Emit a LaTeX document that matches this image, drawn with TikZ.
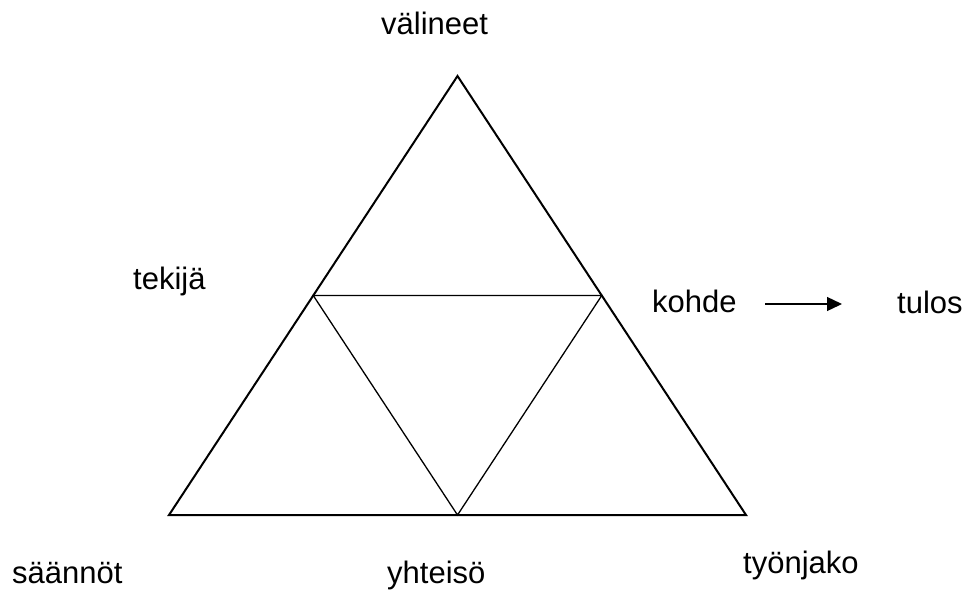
\documentclass[tikz,border=0pt]{standalone}
\usepackage{fontspec}
\setmainfont{Liberation Sans}
\usetikzlibrary{arrows.meta,calc}
\begin{document}
\begin{tikzpicture}[x=1pt,y=-1pt,
  lbl/.style={anchor=base west,inner sep=0pt,font=\fontsize{31}{37}\selectfont},
  outer/.style={line width=2pt,line join=miter},
  inner/.style={line width=1.3pt},
  arr/.style={line width=1.3pt,-{Triangle[length=15pt,width=14pt]}}]
\useasboundingbox (0,0) rectangle (968,590);
\coordinate (A) at (457.5,76);
\coordinate (B) at (169,515);
\coordinate (C) at (746,515);
\coordinate (AB) at ($(A)!0.5!(B)$);
\coordinate (AC) at ($(A)!0.5!(C)$);
\coordinate (BC) at ($(B)!0.5!(C)$);
\draw[outer] (A) -- (B) -- (C) -- cycle;
\draw[inner] (AB) -- (AC) -- (BC) -- cycle;
\node[lbl] (valineet) at (381,34) {välineet};
\node[lbl] (tekija) at (133,289) {tekijä};
\node[lbl] (kohde) at (652,312) {kohde};
\node[lbl] (tulos) at (897,313) {tulos};
\node[lbl] (saannot) at (12,583) {säännöt};
\node[lbl] (yhteiso) at (387,583) {yhteisö};
\node[lbl] (tyonjako) at (743,573) {työnjako};
\coordinate (a1) at (765,304);
\coordinate (a2) at (842,304);
\draw[arr] (a1) -- (a2);
\end{tikzpicture}
\end{document}
